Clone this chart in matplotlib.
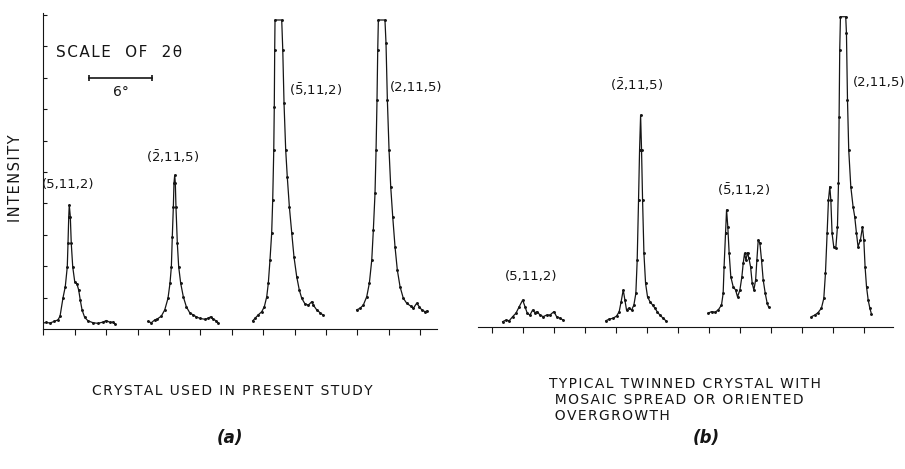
import matplotlib
matplotlib.use("Agg")
import matplotlib.pyplot as plt

plt.rcParams['font.family'] = ['DejaVu Sans']
plt.rcParams['mathtext.fontset'] = 'dejavusans'
plt.rcParams['mathtext.default'] = 'regular'

INK = '#151515'

# 2-theta in degrees (relative), intensity in tick units
# (a) crystal used in present study
a_512_x = [-0.1, 0.26, 0.64, 1.02, 1.4, 1.6, 1.88, 2.1, 2.29, 2.36, 2.43, 2.48, 2.58, 2.67,
           2.81, 3.0, 3.22, 3.38, 3.53, 3.7, 3.95, 4.27, 4.75, 5.22, 5.7, 6.02, 6.37, 6.66, 6.85]
a_512_y = [0.18, 0.21, 0.19, 0.24, 0.29, 0.41, 0.99, 1.35, 1.98, 2.74, 3.58, 3.95, 3.58, 2.73,
           1.98, 1.51, 1.43, 1.24, 0.92, 0.61, 0.37, 0.26, 0.2, 0.18, 0.22, 0.27, 0.21, 0.22, 0.16]

a_b25_x = [10.0, 10.32, 10.64, 10.89, 11.27, 11.6, 11.91, 12.1, 12.23, 12.32, 12.42, 12.48, 12.55,
           12.61, 12.67, 12.8, 12.93, 13.12, 13.37, 13.66, 13.98, 14.3, 14.61, 14.94, 15.42,
           15.73, 15.99, 16.21, 16.52, 16.69]
a_b25_y = [0.24, 0.2, 0.29, 0.32, 0.41, 0.61, 0.98, 1.46, 1.98, 2.94, 3.89, 4.64, 4.9,
           4.64, 3.89, 2.73, 1.98, 1.46, 1.03, 0.71, 0.52, 0.45, 0.39, 0.34, 0.31,
           0.34, 0.39, 0.32, 0.26, 0.2]

a_b52_x = [20.0, 20.22, 20.53, 20.86, 21.11, 21.34, 21.49, 21.65, 21.81, 21.91, 22.01, 22.06,
           22.1, 22.13, 22.77, 22.87, 22.99, 23.15, 23.3, 23.5, 23.73, 23.94, 24.2, 24.45,
           24.68, 24.99, 25.31, 25.64, 25.79, 26.11, 26.43, 26.69]
a_b52_y = [0.26, 0.34, 0.45, 0.55, 0.71, 1.03, 1.46, 2.2, 3.05, 4.11, 5.7, 7.08,
           8.89, 9.84, 9.84, 8.89, 7.19, 5.7, 4.85, 3.89, 3.05, 2.3, 1.67, 1.24,
           0.98, 0.8, 0.76, 0.87, 0.76, 0.61, 0.52, 0.45]

a_215_x = [29.93, 30.25, 30.56, 30.89, 31.14, 31.37, 31.52, 31.68, 31.78, 31.87, 31.94, 32.0,
           32.63, 32.73, 32.86, 33.02, 33.18, 33.37, 33.59, 33.81, 34.07, 34.38, 34.71,
           35.09, 35.34, 35.66, 35.91, 36.14, 36.46, 36.68]
a_215_y = [0.61, 0.66, 0.76, 1.03, 1.46, 2.2, 3.15, 4.32, 5.7, 7.29, 8.89, 9.84,
           9.84, 9.1, 7.29, 5.7, 4.53, 3.58, 2.62, 1.88, 1.35, 0.98, 0.82,
           0.73, 0.66, 0.82, 0.71, 0.61, 0.55, 0.58]

# (b) typical twinned crystal
b_512_x = [1.06, 1.38, 1.7, 2.03, 2.35, 2.67, 3.0, 3.22, 3.44, 3.7, 3.96, 4.18, 4.41, 4.67,
           4.99, 5.31, 5.63, 6.02, 6.28, 6.6, 6.92]
b_512_y = [0.17, 0.22, 0.2, 0.33, 0.44, 0.65, 0.86, 0.65, 0.44, 0.38, 0.54, 0.46, 0.49, 0.38,
           0.33, 0.38, 0.38, 0.49, 0.33, 0.28, 0.22]

b_b25_x = [11.04, 11.36, 11.75, 12.08, 12.33, 12.52, 12.72, 12.88, 13.04, 13.27, 13.53, 13.75,
           13.94, 14.07, 14.2, 14.3, 14.4, 14.49, 14.59, 14.72, 14.88, 15.07, 15.3, 15.56,
           15.78, 16.0, 16.26, 16.58, 16.84]
b_b25_y = [0.2, 0.25, 0.28, 0.35, 0.49, 0.81, 1.18, 0.86, 0.54, 0.6, 0.54, 0.7,
           1.07, 2.13, 4.04, 5.64, 6.75, 5.64, 4.04, 2.35, 1.39, 0.96, 0.81, 0.7,
           0.6, 0.49, 0.38, 0.28, 0.2]

b_b52_x = [20.93, 21.26, 21.58, 21.9, 22.22, 22.38, 22.47, 22.61, 22.71, 22.83, 22.96, 23.12,
           23.35, 23.58, 23.77, 24.0, 24.19, 24.32, 24.45, 24.58, 24.74, 24.87, 25.03, 25.19,
           25.35, 25.52, 25.64, 25.77, 25.93, 26.09, 26.25, 26.45, 26.64, 26.78]
b_b52_y = [0.44, 0.49, 0.47, 0.54, 0.7, 1.07, 1.92, 2.98, 3.73, 3.19, 2.35, 1.6,
           1.28, 1.18, 0.96, 1.18, 1.6, 2.03, 2.35, 2.13, 2.37, 2.19, 1.92, 1.39,
           1.18, 1.5, 2.13, 2.77, 2.67, 2.13, 1.5, 1.07, 0.75, 0.63]

b_215_x = [30.92, 31.24, 31.56, 31.88, 32.11, 32.27, 32.43, 32.56, 32.69, 32.79, 32.91, 33.07,
           33.27, 33.43, 33.53, 33.59, 33.65, 33.72, 34.23, 34.3, 34.4, 34.52, 34.72, 34.94,
           35.1, 35.27, 35.42, 35.65, 35.85, 35.98, 36.1, 36.24, 36.4, 36.56, 36.72]
b_215_y = [0.33, 0.38, 0.46, 0.6, 0.91, 1.71, 2.98, 4.04, 4.47, 4.04, 2.98, 2.56,
           2.51, 3.19, 4.58, 6.7, 8.82, 9.88, 9.88, 9.35, 7.23, 5.64, 4.47, 3.83,
           3.51, 2.98, 2.56, 2.77, 3.19, 2.77, 1.92, 1.28, 0.86, 0.6, 0.41]

labels = ["(5,11,2)", r"$(\bar{2}{,}11{,}5)$", r"$(\bar{5}{,}11{,}2)$", "(2,11,5)"]
a_label_xy = [(-0.12, 4.59), (9.8, 5.48), (23.5, 7.61), (33.1, 7.68)]
b_label_xy = [(1.29, 1.62), (11.4, 7.71), (21.8, 4.36), (34.9, 7.8)]

caption_a = "CRYSTAL USED IN PRESENT STUDY"
caption_b = ["TYPICAL TWINNED CRYSTAL WITH", " MOSAIC SPREAD OR ORIENTED", " OVERGROWTH"]


def spaced(s, gap='\u200a'):
    # stencil lettering is a little wider spaced than the font
    return gap.join(s)


fig = plt.figure(figsize=(9.05, 4.69), dpi=100)
ax_a = fig.add_axes([43.3 / 905, 140 / 469, 393.7 / 905, 315.6 / 469])
ax_b = fig.add_axes([478 / 905, 142 / 469, 415 / 905, 315.6 / 469])


def draw_trace(ax, xs, ys):
    ax.plot(xs, ys, color=INK, lw=0.9, marker='.', ms=2.2, mec=INK, mfc=INK)


for xs, ys in [(a_512_x, a_512_y), (a_b25_x, a_b25_y), (a_b52_x, a_b52_y), (a_215_x, a_215_y)]:
    draw_trace(ax_a, xs, ys)
for xs, ys in [(b_512_x, b_512_y), (b_b25_x, b_b25_y), (b_b52_x, b_b52_y), (b_215_x, b_215_y)]:
    draw_trace(ax_b, xs, ys)

for ax, pos in [(ax_a, a_label_xy), (ax_b, b_label_xy)]:
    for lab, (lx, ly) in zip(labels, pos):
        ax.text(lx, ly, lab, fontsize=9.5, ha='left', va='center', color=INK, clip_on=False)

# axes styling
ax_a.set_xlim(0, 37.6)
ax_a.set_ylim(0, 10.05)
ax_b.set_xlim(-1.32, 38.8)
ax_b.set_ylim(0, 10.05)
for ax in (ax_a, ax_b):
    ax.set_facecolor('none')
    ax.spines['top'].set_visible(False)
    ax.spines['right'].set_visible(False)
    ax.set_xticks(range(0, 37, 3))
    ax.set_xticklabels([])
    ax.tick_params(axis='x', direction='out', length=4, width=0.8, color=INK)
    ax.spines['bottom'].set_color(INK)
ax_a.spines['left'].set_color(INK)
ax_a.set_yticks(range(1, 11))
ax_a.set_yticklabels([])
ax_a.tick_params(axis='y', direction='in', length=3, width=0.8, color=INK)
ax_b.spines['left'].set_visible(False)
ax_b.set_yticks([])

# scale of 2-theta
scale_start = 4.4
scale_deg = 6
ax_a.plot([scale_start, scale_start + scale_deg], [8.0, 8.0], color=INK, lw=1.2,
          marker='|', ms=5, mew=1.2)
ax_a.text(scale_start + scale_deg / 2, 7.55, "6°", fontsize=10, ha='center', va='center', color=INK)
ax_a.text(1.2, 8.82, spaced("SCALE  OF  2θ"), fontsize=11, ha='left', va='center', color=INK)

fig.text(16 / 905, 1 - 178 / 469, spaced("INTENSITY"), rotation=90, fontsize=10.5,
         ha='center', va='center', color=INK)

fig.text(232 / 905, 1 - 391 / 469, spaced(caption_a), fontsize=10,
         ha='center', va='center', color=INK)
fig.text(549 / 905, 1 - 400 / 469, "\n".join(spaced(s) for s in caption_b),
         fontsize=10, ha='left', va='center', color=INK, linespacing=1.15)

fig.text(230 / 905, 1 - 438 / 469, "(a)", fontsize=12, style='italic', weight='bold',
         ha='center', va='center', color=INK)
fig.text(706 / 905, 1 - 438 / 469, "(b)", fontsize=12, style='italic', weight='bold',
         ha='center', va='center', color=INK)

fig.savefig("out.png", dpi=100, facecolor='white')
